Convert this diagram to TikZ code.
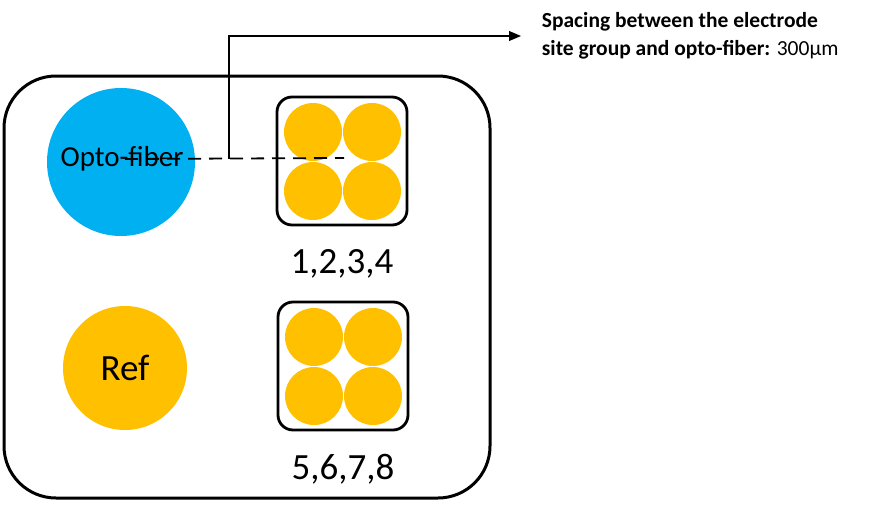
\documentclass[tikz,border=0pt]{standalone}
\usepackage{fontspec}
\setmainfont{Carlito}
\usepackage{xcolor}
\usetikzlibrary{arrows, positioning, calc}
\definecolor{fiberblue}{HTML}{00B0F0}
\definecolor{siteyellow}{HTML}{FFC000}

\begin{document}
\begin{tikzpicture}[x=1pt,y=-1pt,>=triangle 45,line width=1.8pt]
          \tikzstyle{site}=[circle,fill=siteyellow,minimum size=58pt,inner sep=0pt]
          \tikzstyle{group}=[draw,line width=2.8pt,rounded corners=15pt,minimum width=130pt,minimum height=128pt,inner sep=0pt]
          \tikzstyle{biglabel}=[font=\fontsize{37}{40}\selectfont]
          \useasboundingbox (0,0) rectangle (872,514);

          % probe outline
          \draw[line width=3pt,rounded corners=52pt] (4,76) rectangle (490,498);

          \node[circle,fill=fiberblue,minimum size=148pt,inner sep=0pt] (fiber) at (121,162) {};
          \node[font=\fontsize{29}{30}\selectfont] (fibertext) at (122,159) {Opto-fiber};
          \node[circle,fill=siteyellow,minimum size=124pt,inner sep=0pt,biglabel] (ref) at (125,368) {Ref};

          % electrode site groups
          \node[group] (g1) at (342,161) {};
          \node[group] (g2) at (343,366) {};
          \foreach \g in {g1,g2} {
            \node[site] (\g a) at ($(\g)+(-29,-29)$) {};
            \node[site] (\g b) at ($(\g)+(30,-29)$) {};
            \node[site] (\g c) at ($(\g)+(-29,30)$) {};
            \node[site] (\g d) at ($(\g)+(30,30)$) {};
          }
          \node[biglabel] (l1) [below=19pt of g1] {1,2,3,4};
          \node[biglabel] (l2) [below=19pt of g2] {5,6,7,8};

          % spacing annotation
          \node[anchor=west,align=left,inner sep=0pt,font=\fontsize{21.5}{28}\selectfont] (note) at (541,36)
            {\textbf{Spacing between the electrode}\\\textbf{site group and opto-fiber:} 300µm};
          \coordinate (mid) at ($(fiber.center)!0.49!(g1.center)$);
          \draw[dashed,dash pattern=on 13pt off 8pt] ($(fiber.center)+(4,-3)$) -- ($(g1.center)+(2,-3)$);
          \draw[->] ($(mid)+(0,-3)$) |- ([xshift=-20pt]note.west);
\end{tikzpicture}
\end{document}
